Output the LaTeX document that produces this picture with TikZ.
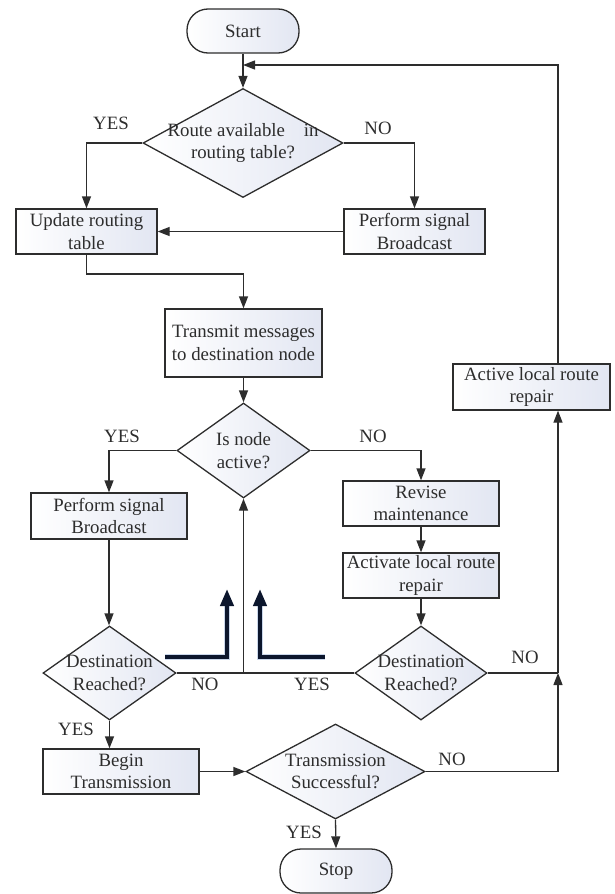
\documentclass[tikz,border=0pt]{standalone}
\usepackage{fontspec}
\setmainfont{Liberation Serif}
\usetikzlibrary{shapes.geometric,arrows.meta,calc}
\definecolor{ink}{RGB}{45,45,45}
\definecolor{boxfill}{RGB}{226,230,242}
\definecolor{navy}{RGB}{12,22,45}
\definecolor{glow}{RGB}{150,175,215}
\begin{document}
\begin{tikzpicture}[x=1pt,y=-1pt,
  every node/.style={font=\fontsize{18.8}{22.3}\selectfont, text=ink},
  conn/.style={draw=ink, line width=1.3pt, -{Triangle[length=12pt,width=9pt]}},
  plain/.style={draw=ink, line width=1.3pt},
  procbox/.style={rectangle, draw=ink, line width=1.3pt, left color=white, right color=boxfill, align=center, inner sep=0pt},
  decbox/.style={diamond, draw=ink, line width=1.3pt, left color=white, right color=boxfill, inner sep=0pt},
  termbox/.style={rectangle, rounded corners=21pt, draw=ink, line width=1.3pt, left color=white, right color=boxfill, inner sep=0pt},
  dtext/.style={align=center},
  lbl/.style={inner sep=0pt},
  bigarrow/.style={draw=navy, line width=4pt, line join=miter, -{Triangle[length=17pt,width=13pt]}},
  glowline/.style={draw=glow, line width=6.5pt, opacity=0.5, line join=miter},
]
\useasboundingbox (0,0) rectangle (615,894);

% nodes
\node[termbox, minimum width=112pt, minimum height=44pt] (start) at (243,31) {Start};
\node[decbox, minimum width=200pt, minimum height=109pt,
  label={[dtext]center:Route available\quad in\\routing table?}] (d1) at (243,143) {};
\node[procbox, minimum width=141pt, minimum height=45pt] (upd) at (86.5,231.5) {Update routing\\table};
\node[procbox, minimum width=141pt, minimum height=45pt] (pb1) at (414.5,231.5) {Perform signal\\Broadcast};
\node[procbox, minimum width=157pt, minimum height=68pt] (tx) at (243.5,343) {Transmit messages\\to destination node};
\node[decbox, minimum width=133pt, minimum height=95pt,
  label={[dtext]center:Is node\\active?}] (d2) at (243.5,450.5) {};
\node[procbox, minimum width=156pt, minimum height=46pt] (pb2) at (109,516) {Perform signal\\Broadcast};
\node[procbox, minimum width=156pt, minimum height=45pt] (rev) at (421,503.5) {Revise\\maintenance};
\node[procbox, minimum width=156pt, minimum height=45pt] (act) at (421,575.5) {Activate local route\\repair};
\node[procbox, minimum width=157pt, minimum height=46pt] (alr) at (531.5,387) {Active local route\\repair};
\node[decbox, minimum width=133pt, minimum height=94pt,
  label={[dtext]center:Destination\\Reached?}] (d3) at (109.5,673) {};
\node[decbox, minimum width=132pt, minimum height=94pt,
  label={[dtext]center:Destination\\Reached?}] (d4) at (421,673) {};
\node[procbox, minimum width=156pt, minimum height=45pt] (beg) at (121,771.5) {Begin\\Transmission};
\node[decbox, minimum width=179pt, minimum height=95pt,
  label={[dtext]center:Transmission\\Successful?}] (d5) at (335.5,771.5) {};
\node[termbox, minimum width=112pt, minimum height=44pt] (stop) at (336,871) {Stop};

% junction coordinates
\coordinate (top) at (243,65);
\coordinate (rx) at (558,65);
\coordinate (bend) at (243.5,274);
\coordinate (j1) at (243.5,673);
\coordinate (j2) at (558,673);

% connectors
\draw[plain] (start.south) -- (top);
\draw[conn] (top) -- (d1.north);
\draw[conn] (alr.north -| rx) -- (rx) -- (top);
\draw[conn] (d1.west) -| (upd.north);
\draw[conn] (d1.east) -| (pb1.north);
\draw[conn] (pb1.west) -- (upd.east);
\draw[conn] (upd.south) |- (bend) -- (tx.north);
\draw[conn] (tx.south) -- (d2.north);
\draw[conn] (d2.west) -| (pb2.north);
\draw[conn] (d2.east) -| (rev.north);
\draw[conn] (rev.south) -- (act.north);
\draw[conn] (act.south) -- (d4.north);
\draw[conn] (pb2.south) -- (pb2.south |- d3.north);
\draw[plain] (d3.east) -- (d4.west);
\draw[conn] (j1) -- (d2.south);
\draw[plain] (d4.east) -- (j2);
\draw[conn] (j2) -- (alr.south -| j2);
\draw[conn] (d5.east) -| (j2);
\draw[conn] (d3.south) -- (d3.south |- beg.north);
\draw[conn] (beg.east) -- (d5.west);
\draw[conn] (d5.south) -- (stop.north);

% labels
\node[lbl] (l1) at (111,123) {YES};
\node[lbl] (l2) at (378,128) {NO};
\node[lbl] (l3) at (122,436) {YES};
\node[lbl] (l4) at (373,436) {NO};
\node[lbl] (l5) at (205,684) {NO};
\node[lbl] (l6) at (312,684) {YES};
\node[lbl] (l7) at (525,657) {NO};
\node[lbl] (l8) at (76,729) {YES};
\node[lbl] (l9) at (452,759) {NO};
\node[lbl] (l10) at (304,832) {YES};

% thick arrows
\coordinate (a1s) at (165,657);
\coordinate (a1c) at (227,657);
\coordinate (a1e) at (227,589);
\coordinate (a2s) at (325,657);
\coordinate (a2c) at (260,657);
\coordinate (a2e) at (260,589);
\draw[glowline] (a1s) -- (a1c) -- ($(a1e)+(0,14)$);
\draw[glowline] (a2s) -- (a2c) -- ($(a2e)+(0,14)$);
\draw[bigarrow] (a1s) -- (a1c) -- (a1e);
\draw[bigarrow] (a2s) -- (a2c) -- (a2e);
\end{tikzpicture}
\end{document}
